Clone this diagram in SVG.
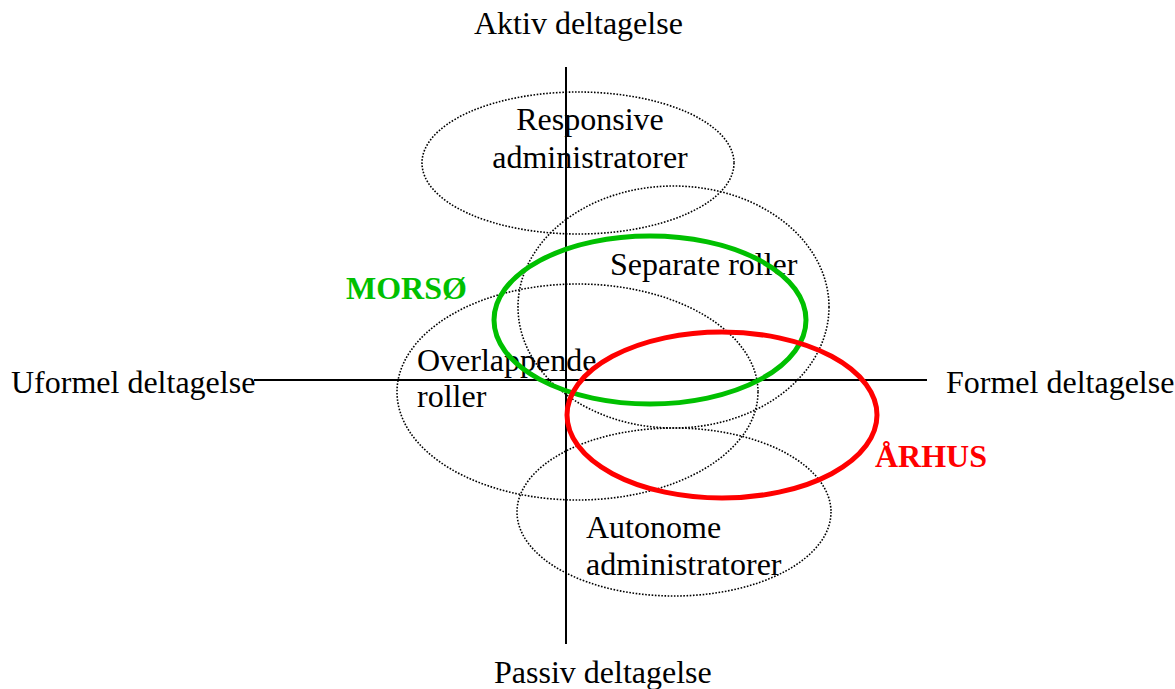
<svg xmlns="http://www.w3.org/2000/svg" width="1175" height="689" viewBox="0 0 1175 689">
<style>
  .t { font-family: "Liberation Serif", "Times New Roman", serif; font-size: 32px; fill: #000; }
  .b { font-weight: bold; }
  .dot { fill: none; stroke: #000; stroke-width: 1.6; stroke-dasharray: 1.6 1.6; }
  .axis { stroke: #000; stroke-width: 2; fill: none; }
</style>
<rect width="1175" height="689" fill="#fff"/>
<g id="connectors">
  <line class="axis" x1="566" y1="67" x2="566" y2="644"/>
  <line class="axis" x1="254" y1="380" x2="927" y2="380"/>
</g>
<g id="axis-labels">
  <text class="t" x="474" y="34">Aktiv deltagelse</text>
  <text class="t" x="494" y="683">Passiv deltagelse</text>
  <text class="t" x="11" y="393">Uformel deltagelse</text>
  <text class="t" x="946" y="393">Formel deltagelse</text>
</g>
<g id="responsive">
  <ellipse class="dot" cx="578" cy="163" rx="156" ry="71"/>
  <text class="t" x="590" y="130" text-anchor="middle">Responsive</text>
  <text class="t" x="590" y="168" text-anchor="middle">administratorer</text>
</g>
<g id="separate">
  <ellipse class="dot" cx="673.5" cy="307" rx="155.5" ry="121"/>
  <text class="t" x="610" y="275">Separate roller</text>
</g>
<g id="overlappende">
  <ellipse class="dot" cx="577.5" cy="392" rx="180.5" ry="108"/>
  <text class="t" x="417" y="371">Overlappende</text>
  <text class="t" x="417" y="407">roller</text>
</g>
<g id="autonome">
  <ellipse class="dot" cx="674" cy="512" rx="157" ry="84"/>
  <text class="t" x="586" y="538">Autonome</text>
  <text class="t" x="586" y="575">administratorer</text>
</g>
<g id="morso">
  <ellipse cx="650" cy="320" rx="156" ry="84" fill="none" stroke="#00c000" stroke-width="5"/>
  <text class="t b" x="346" y="299" fill="#00c000" style="fill:#00c000">MORSØ</text>
</g>
<g id="arhus">
  <ellipse cx="722" cy="415" rx="155" ry="83" fill="none" stroke="#ff0000" stroke-width="5"/>
  <text class="t b" x="875" y="467" style="fill:#ff0000">ÅRHUS</text>
</g>
</svg>
